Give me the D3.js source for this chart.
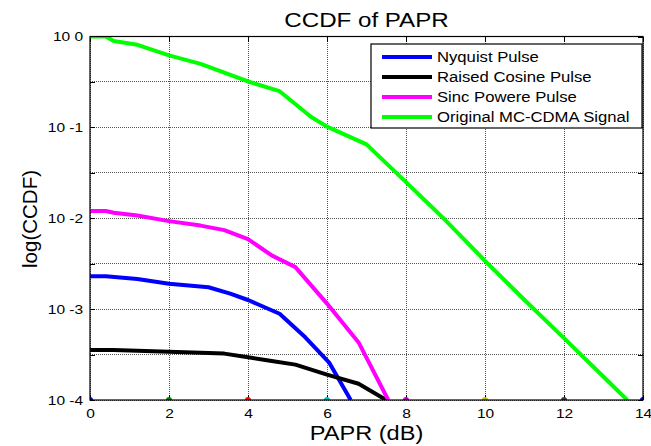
<!DOCTYPE html>
<html>
  <head>
    <script src="https://d3js.org/d3.v7.min.js"></script>
    <style>
      body { margin: 0; background: #fff; }
      text { font-family: "Liberation Sans", Arial, sans-serif; fill: #000; }
      .axis path { display: none; }
      .axis line { stroke: #000; shape-rendering: crispEdges; }
      .grid line { stroke: #555; stroke-dasharray: 1,1; shape-rendering: crispEdges; }
      .curve { fill: none; stroke-width: 4; stroke-linejoin: round; }
    </style>
  </head>
  <body>
    <script>
      // values (PAPR in dB, CCDF probability)
      var nyqX = [0, 0.4, 1.2, 2, 3, 3.55, 4, 4.8, 5.45, 6.05, 6.6];
      var nyqY = [0.0023, 0.0023, 0.00214, 0.0019, 0.00174, 0.00148, 0.00126, 0.00089, 0.00049, 0.00026, 0.0001];

      var rcX = [0, 0.6, 2, 3.4, 4, 4.6, 5.2, 6, 6.8, 7.5];
      var rcY = [0.000355, 0.000355, 0.000339, 0.000324, 0.000295, 0.000269, 0.000245, 0.00019, 0.000151, 0.0001];

      var sincX = [0, 0.4, 0.6, 1.2, 2, 2.8, 3.4, 4, 4.6, 5.2, 6, 6.8, 7.55];
      var sincY = [0.012, 0.012, 0.0115, 0.0107, 0.0093, 0.0083, 0.0074, 0.0059, 0.0039, 0.0029, 0.00115, 0.00043, 0.0001];

      var origX = [0, 0.4, 0.6, 1.2, 2, 2.8, 3.4, 4, 4.8, 5.6, 6, 7, 8, 9, 10, 11, 12, 13, 13.6];
      var origY = [1, 1, 0.89, 0.81, 0.62, 0.5, 0.4, 0.32, 0.25, 0.13, 0.102, 0.065, 0.025, 0.0095, 0.0034, 0.00126, 0.00048, 0.00018, 0.0001];

      var seriesNames = ["Nyquist Pulse", "Raised Cosine Pulse", "Sinc Powere Pulse", "Original MC-CDMA Signal"];
      var seriesColors = ["#0000ff", "#000000", "#ff00ff", "#00ff00"];

      var xTicks = [0, 2, 4, 6, 8, 10, 12, 14];
      var markerColors = ["#0000ff", "#008000", "#ff0000", "#00bfbf", "#bf00bf", "#bfbf00", "#404040", "#0000ff"];
      var yTicks = [1, 0.3162, 0.1, 0.03162, 0.01, 0.003162, 0.001, 0.0003162, 0.0001];
      var yTickLabels = ["10 0", "", "10 -1", "", "10 -2", "", "10 -3", "", "10 -4"];

      var series = [[nyqX, nyqY], [rcX, rcY], [sincX, sincY], [origX, origY]];

      var W = 651, H = 446;
      var pLeft = 90, pRight = 643, pTop = 36.5, pBottom = 400;
      var sx = 1.15; // horizontal stretch of the reference text

      var svg = d3.select("body").append("svg")
        .attr("width", W)
        .attr("height", H);

      var x = d3.scaleLinear().domain([0, 14]).range([pLeft, pRight]);
      var y = d3.scaleLog().domain([0.0001, 1]).range([pBottom, pTop]);

      svg.append("defs").append("clipPath").attr("id", "plot")
        .append("rect")
        .attr("x", pLeft).attr("y", pTop)
        .attr("width", pRight - pLeft).attr("height", pBottom - pTop);

      // grid
      svg.append("g").attr("class", "grid")
        .selectAll("line").data(xTicks).enter().append("line")
        .attr("x1", function(d) { return x(d); })
        .attr("x2", function(d) { return x(d); })
        .attr("y1", pTop).attr("y2", pBottom);
      svg.append("g").attr("class", "grid")
        .selectAll("line").data(yTicks).enter().append("line")
        .attr("x1", pLeft).attr("x2", pRight)
        .attr("y1", function(d) { return y(d); })
        .attr("y2", function(d) { return y(d); });

      // axes (inward ticks, like the matlab figure)
      var xAxis = svg.append("g").attr("class", "axis")
        .attr("transform", "translate(0," + pBottom + ")")
        .call(d3.axisBottom(x).tickValues(xTicks).tickSize(-5).tickSizeOuter(0).tickPadding(8));
      xAxis.selectAll("text").style("font-size", "13.5px").attr("transform", "scale(" + sx + ",1)");

      var yAxis = svg.append("g").attr("class", "axis")
        .attr("transform", "translate(" + pLeft + ",0)")
        .call(d3.axisLeft(y).tickValues(yTicks).tickSize(-5).tickSizeOuter(0).tickPadding(6)
          .tickFormat(function(d, i) { return yTickLabels[i]; }));
      yAxis.selectAll("text").style("font-size", "13.5px").style("white-space", "pre")
        .attr("transform", "scale(" + sx + ",1)");

      svg.append("g").attr("class", "axis")
        .attr("transform", "translate(" + pRight + ",0)")
        .call(d3.axisRight(y).tickValues(yTicks).tickSize(-5).tickSizeOuter(0).tickFormat(""));
      svg.append("g").attr("class", "axis")
        .attr("transform", "translate(0," + pTop + ")")
        .call(d3.axisTop(x).tickValues(xTicks).tickSize(-5).tickSizeOuter(0).tickFormat(""));

      // curves
      var line = d3.line()
        .x(function(d) { return x(d[0]); })
        .y(function(d) { return y(d[1]); });

      var plot = svg.append("g").attr("clip-path", "url(#plot)");
      series.forEach(function(s, i) {
        var pts = s[0].map(function(v, j) { return [v, s[1][j]]; });
        plot.append("path")
          .attr("class", "curve")
          .attr("stroke", seriesColors[i])
          .attr("d", line(pts));
      });

      // little coloured markers sitting on the x axis
      plot.selectAll(".mk").data(xTicks).enter().append("circle")
        .attr("class", "mk")
        .attr("cx", function(d) { return x(d); })
        .attr("cy", pBottom)
        .attr("r", 3)
        .attr("fill", function(d, i) { return markerColors[i]; });

      // box
      svg.append("rect")
        .attr("x", pLeft).attr("y", pTop)
        .attr("width", pRight - pLeft).attr("height", pBottom - pTop)
        .attr("fill", "none").attr("stroke", "#000").attr("stroke-width", 1.2);

      // title and labels
      svg.append("text")
        .attr("transform", "translate(" + ((pLeft + pRight) / 2) + ",27) scale(" + sx + ",1)")
        .attr("text-anchor", "middle")
        .style("font-size", "21px")
        .text("CCDF of PAPR");

      svg.append("text")
        .attr("transform", "translate(" + ((pLeft + pRight) / 2) + ",440) scale(" + sx + ",1)")
        .attr("text-anchor", "middle")
        .style("font-size", "20.5px")
        .text("PAPR (dB)");

      svg.append("text")
        .attr("transform", "translate(37,219) rotate(-90)")
        .attr("text-anchor", "middle")
        .style("font-size", "20.5px")
        .text("log(CCDF)");

      // legend
      var lg = svg.append("g").attr("transform", "translate(371,44)");
      lg.append("rect")
        .attr("width", 271).attr("height", 84)
        .attr("fill", "#fff").attr("stroke", "#000").attr("stroke-width", 1.2);
      var row = lg.selectAll(".row").data(seriesNames).enter().append("g")
        .attr("class", "row")
        .attr("transform", function(d, i) { return "translate(0," + (13 + i * 20) + ")"; });
      row.append("line")
        .attr("x1", 11).attr("x2", 61)
        .attr("stroke", function(d, i) { return seriesColors[i]; })
        .attr("stroke-width", 4);
      row.append("text")
        .attr("transform", "translate(66,5) scale(" + sx + ",1)")
        .style("font-size", "14.5px")
        .text(function(d) { return d; });
    </script>
  </body>
</html>
